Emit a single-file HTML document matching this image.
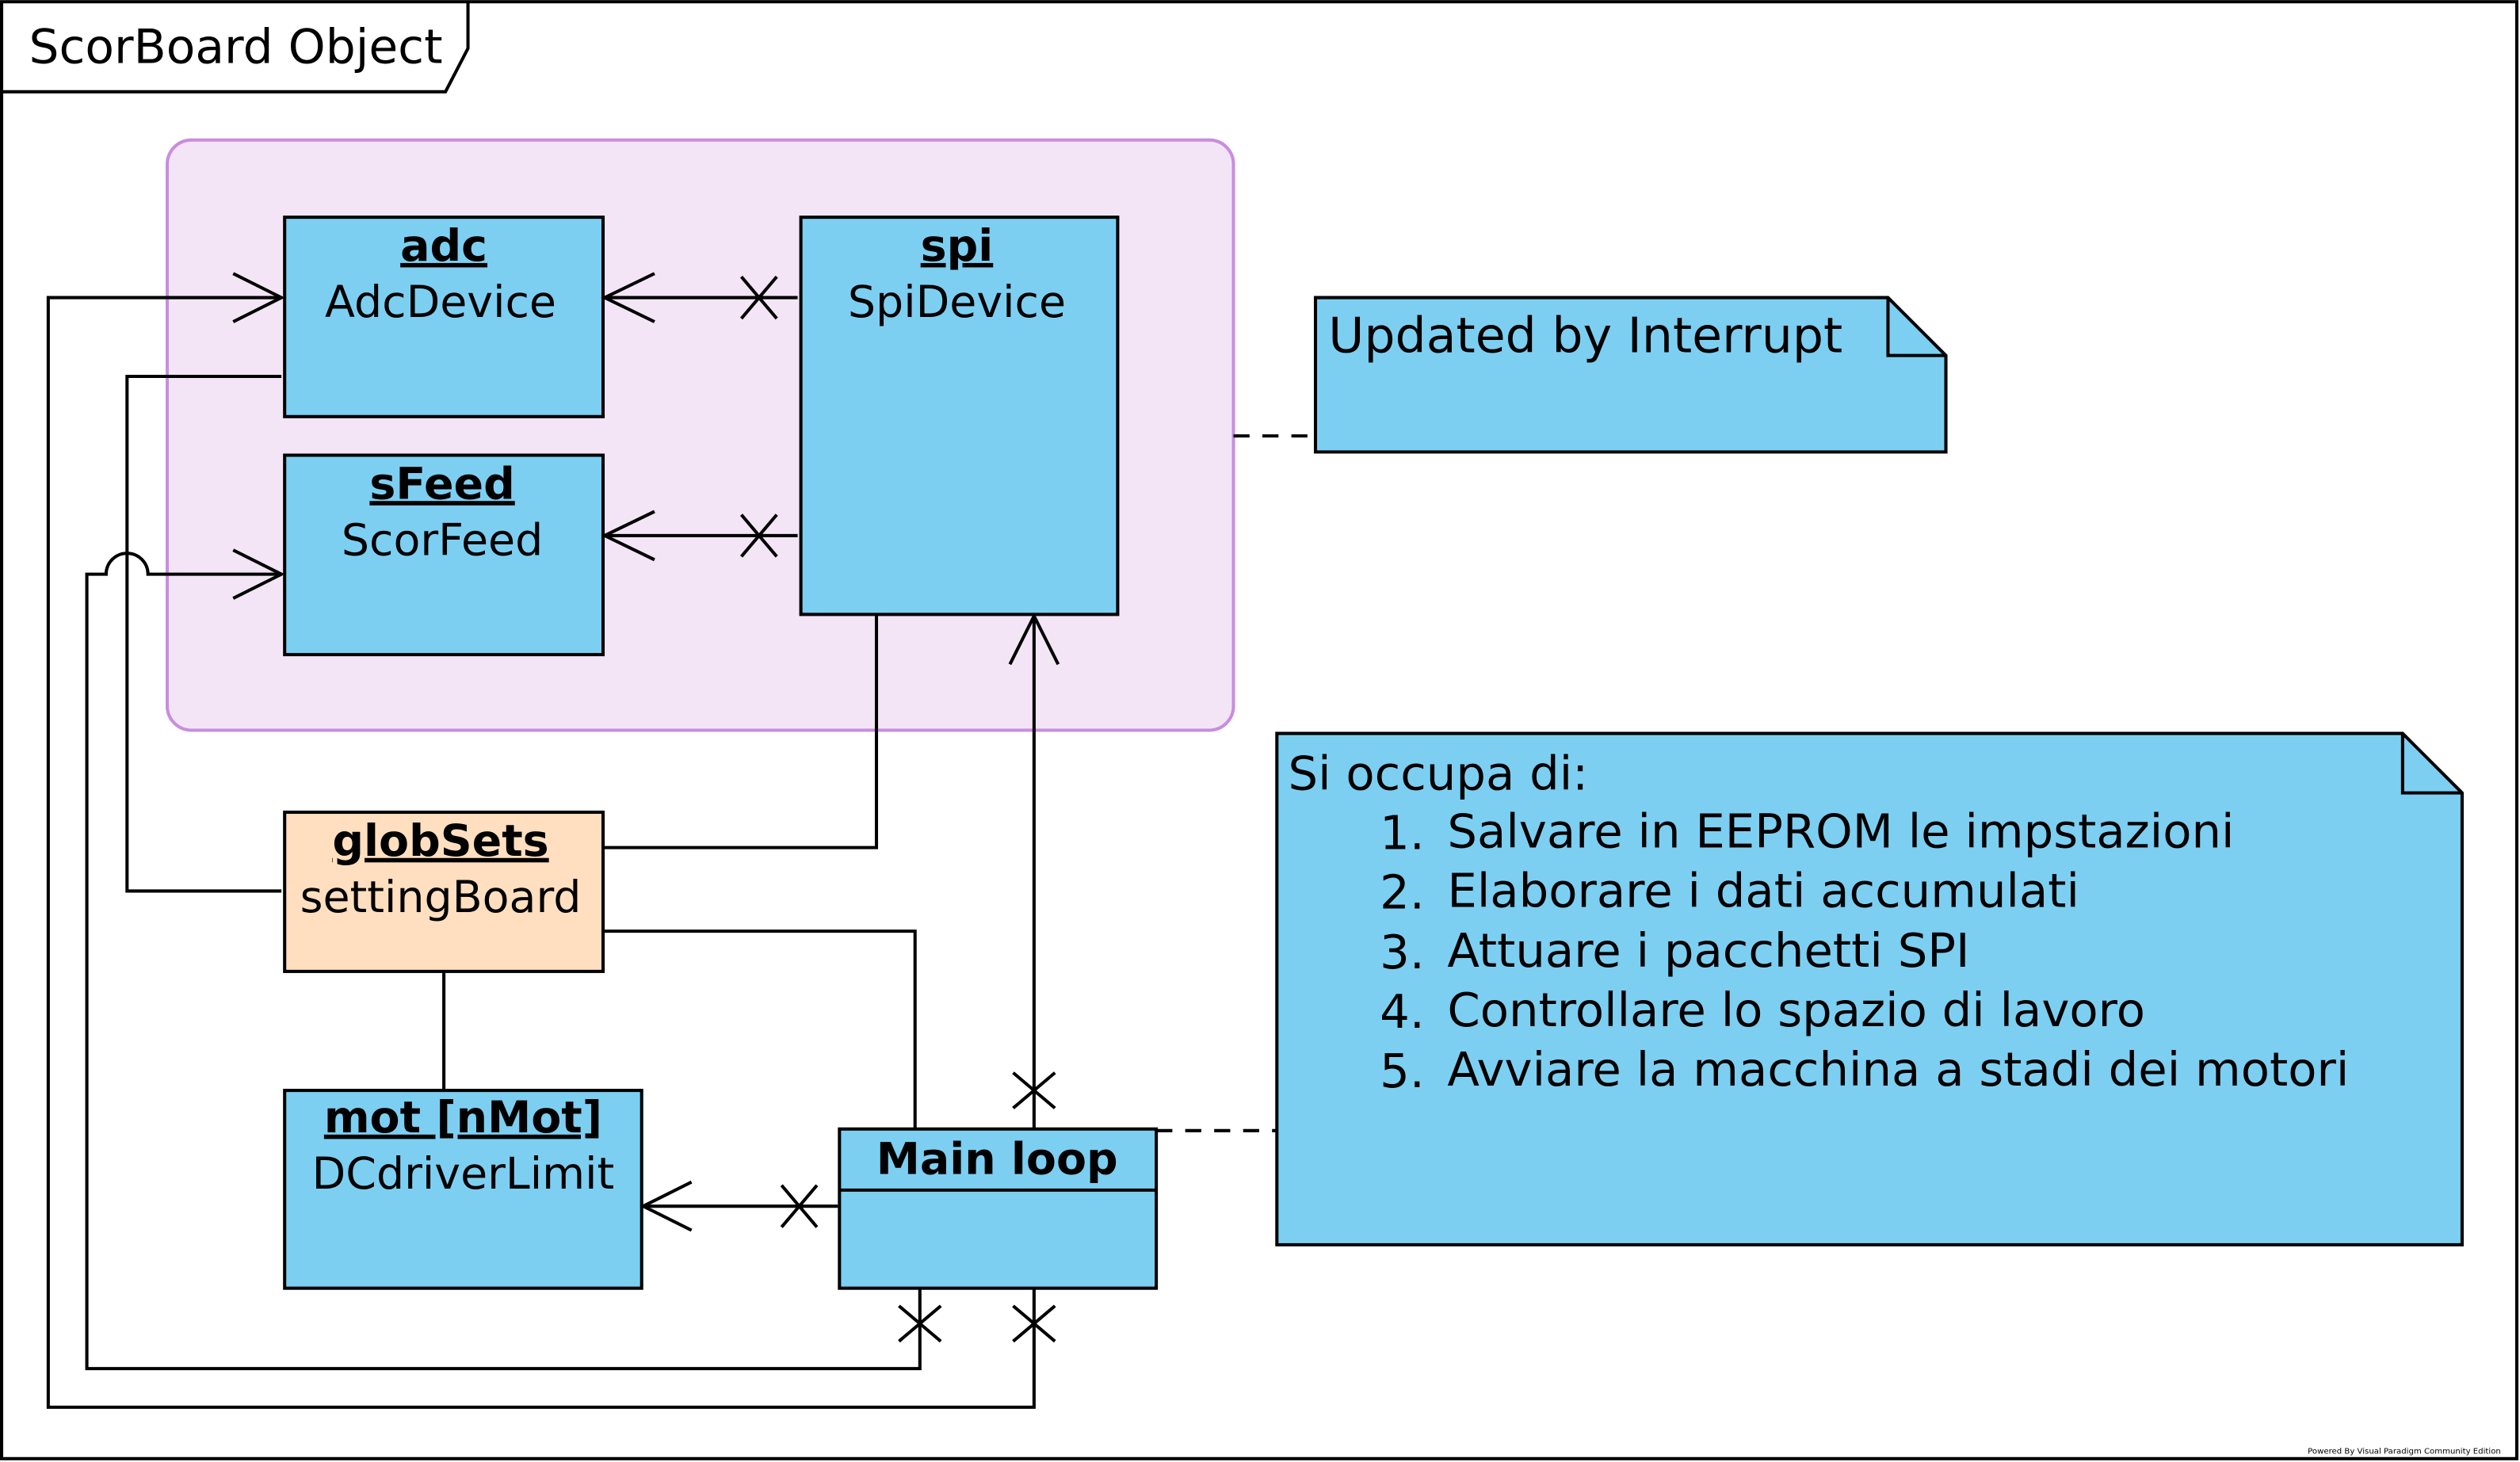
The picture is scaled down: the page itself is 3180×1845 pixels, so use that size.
<!DOCTYPE html>
<html><head><meta charset="utf-8"><style>
html,body{margin:0;padding:0;background:#fff;}
svg{display:block;}
text{font-family:"DejaVu Sans","Liberation Sans",sans-serif;fill:#000;}
</style></head><body>
<svg width="3180" height="1845" viewBox="0 0 1567 909" xmlns="http://www.w3.org/2000/svg">
<rect x="0" y="0" width="1567" height="909" fill="#fff"/>
<rect x="1" y="1" width="1564" height="906" fill="none" stroke="#000" stroke-width="2"/>
<path d="M1,57 L277,57 L291,30 L291,1" fill="none" stroke="#000" stroke-width="2"/>
<text x="18" y="39" font-size="29.5">ScorBoard Object</text>

<rect x="104" y="87" width="663" height="367" rx="15" fill="#f3e5f6" stroke="#c88ddf" stroke-width="2"/>

<g stroke="#000" stroke-width="2" fill="#7dcff2">
<rect x="177" y="135" width="198" height="124"/>
<rect x="177" y="283" width="198" height="124"/>
<rect x="498" y="135" width="197" height="247"/>
<rect x="177" y="505" width="198" height="99" fill="#ffdfbf"/>
<rect x="177" y="678" width="222" height="123"/>
<rect x="522" y="702" width="197" height="99"/>
<line x1="522" y1="740" x2="719" y2="740"/>
<path d="M818,185 L1174,185 L1210,221 L1210,281 L818,281 Z"/>
<path d="M1174,185 L1174,221 L1210,221" fill="none"/>
<path d="M794,456 L1494,456 L1531,493 L1531,774 L794,774 Z"/>
<path d="M1494,456 L1494,493 L1531,493" fill="none"/>
</g>

<g font-size="27.3" text-anchor="middle">
<text x="276" y="162" font-weight="bold" text-decoration="underline">adc</text>
<text x="274" y="197">AdcDevice</text>
<text x="275" y="310" font-weight="bold" text-decoration="underline">sFeed</text>
<text x="275" y="345">ScorFeed</text>
<text x="595" y="162" font-weight="bold" text-decoration="underline">spi</text>
<text x="595" y="197">SpiDevice</text>
<text x="274" y="532" font-weight="bold" text-decoration="underline">globSets</text>
<text x="274" y="567">settingBoard</text>
<text x="288" y="704" font-weight="bold" text-decoration="underline">mot [nMot]</text>
<text x="288" y="739">DCdriverLimit</text>
<text x="620" y="730" font-weight="bold">Main loop</text>
</g>
<text x="826" y="219" font-size="30.4">Updated by Interrupt</text>
<g font-size="29.2">
<text x="801" y="491">Si occupa di:</text>
<text x="858" y="528">1.</text><text x="900" y="527">Salvare in EEPROM le impstazioni</text>
<text x="858" y="565">2.</text><text x="900" y="564">Elaborare i dati accumulati</text>
<text x="858" y="602">3.</text><text x="900" y="601">Attuare i pacchetti SPI</text>
<text x="858" y="639">4.</text><text x="900" y="638">Controllare lo spazio di lavoro</text>
<text x="858" y="676">5.</text><text x="900" y="675">Avviare la macchina a stadi dei motori</text>
</g>

<g stroke="#000" stroke-width="2" fill="none">
<line x1="767" y1="271" x2="818" y2="271" stroke-dasharray="10,8"/>
<line x1="719" y1="703" x2="794" y2="703" stroke-dasharray="10,8"/>
<line x1="376" y1="185" x2="496" y2="185"/>
<path d="M407,170 L376,185 L407,200"/>
<path d="M461,172 L483,198 M461,198 L483,172"/>
<line x1="376" y1="333" x2="496" y2="333"/>
<path d="M407,318 L376,333 L407,348"/>
<path d="M461,320 L483,346 M461,346 L483,320"/>
<path d="M545,382 L545,527 L375,527"/>
<path d="M375,579 L569,579 L569,702"/>
<line x1="276" y1="604" x2="276" y2="678"/>
<path d="M175,554 L79,554 L79,234 L175,234"/>
<line x1="643" y1="702" x2="643" y2="383"/>
<path d="M628,413 L643,383 L658,413"/>
<path d="M630,667 L656,689 M630,689 L656,667"/>
<line x1="521" y1="750" x2="400" y2="750"/>
<path d="M430,735 L400,750 L430,765"/>
<path d="M486,737 L508,763 M486,763 L508,737"/>
<path d="M572,801 L572,851 L54,851 L54,357 L66,357 A13,13 0 0 1 92,357 L175,357"/>
<path d="M145,342 L175,357 L145,372"/>
<path d="M559,812 L585,834 M559,834 L585,812"/>
<path d="M643,801 L643,875 L30,875 L30,185 L175,185"/>
<path d="M145,170 L175,185 L145,200"/>
<path d="M630,812 L656,834 M630,834 L656,812"/>
</g>
<text x="1435" y="904" font-size="5" fill="#555">Powered By Visual Paradigm Community Edition</text>
</svg>
</body></html>
